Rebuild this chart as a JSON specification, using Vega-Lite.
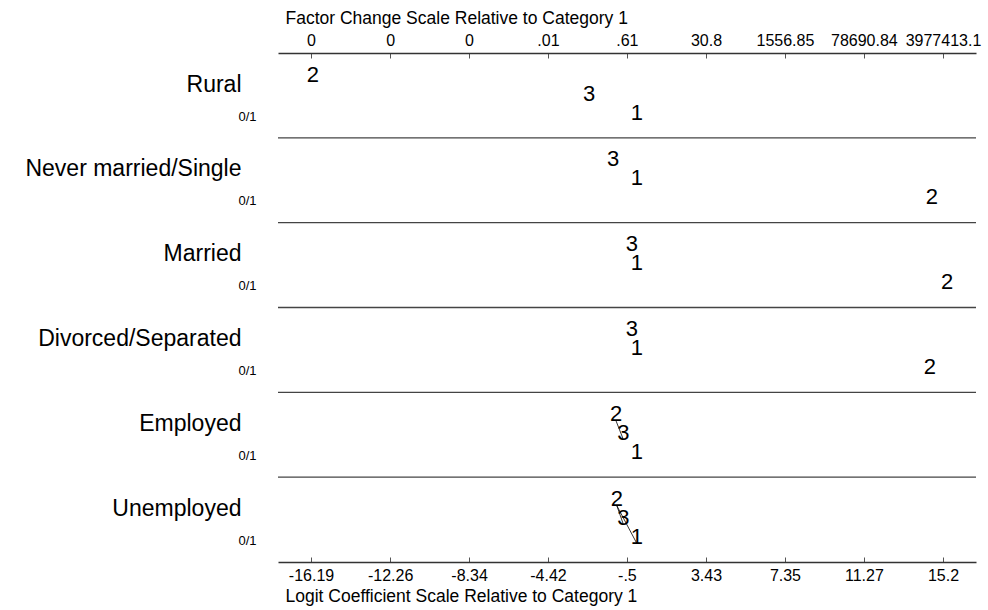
{
  "$schema": "https://vega.github.io/schema/vega-lite/v6.json",
  "width": 698,
  "height": 509,
  "autosize": "none",
  "padding": {"left": 278, "top": 53, "right": 12, "bottom": 48},
  "background": "white",
  "config": {
    "font": "Liberation Sans",
    "view": {"stroke": null},
    "axis": {"labelColor": "#000", "titleColor": "#000", "grid": false, "labelFont": "Liberation Sans", "titleFont": "Liberation Sans", "titleFontWeight": "normal"}
  },
  "datasets": {
    "separators": [{"b": 1}, {"b": 2}, {"b": 3}, {"b": 4}, {"b": 5}],
    "coef": [
      {"row": 0, "variable": "Rural", "cat": "2", "logit": -16.1, "rank": 1},
      {"row": 0, "variable": "Rural", "cat": "3", "logit": -2.38, "rank": 2},
      {"row": 0, "variable": "Rural", "cat": "1", "logit": 0, "rank": 3},
      {"row": 1, "variable": "Never married/Single", "cat": "3", "logit": -1.19, "rank": 1},
      {"row": 1, "variable": "Never married/Single", "cat": "1", "logit": 0, "rank": 2},
      {"row": 1, "variable": "Never married/Single", "cat": "2", "logit": 14.65, "rank": 3},
      {"row": 2, "variable": "Married", "cat": "3", "logit": -0.25, "rank": 1},
      {"row": 2, "variable": "Married", "cat": "1", "logit": 0, "rank": 2},
      {"row": 2, "variable": "Married", "cat": "2", "logit": 15.4, "rank": 3},
      {"row": 3, "variable": "Divorced/Separated", "cat": "3", "logit": -0.25, "rank": 1},
      {"row": 3, "variable": "Divorced/Separated", "cat": "1", "logit": 0, "rank": 2},
      {"row": 3, "variable": "Divorced/Separated", "cat": "2", "logit": 14.55, "rank": 3},
      {"row": 4, "variable": "Employed", "cat": "2", "logit": -1.04, "rank": 1},
      {"row": 4, "variable": "Employed", "cat": "3", "logit": -0.67, "rank": 2},
      {"row": 4, "variable": "Employed", "cat": "1", "logit": 0, "rank": 3},
      {"row": 5, "variable": "Unemployed", "cat": "2", "logit": -1.0, "rank": 1},
      {"row": 5, "variable": "Unemployed", "cat": "3", "logit": -0.67, "rank": 2},
      {"row": 5, "variable": "Unemployed", "cat": "1", "logit": 0, "rank": 3}
    ],
    "links": [
      {"pair": "emp 2-3", "row": 4, "logit": -1.04, "rank": 1},
      {"pair": "emp 2-3", "row": 4, "logit": -0.67, "rank": 2},
      {"pair": "unemp 2-3", "row": 5, "logit": -1.0, "rank": 1},
      {"pair": "unemp 2-3", "row": 5, "logit": -0.67, "rank": 2},
      {"pair": "unemp 2-1", "row": 5, "logit": -1.0, "rank": 1},
      {"pair": "unemp 2-1", "row": 5, "logit": 0, "rank": 3}
    ]
  },
  "layer": [
    {
      "data": {"name": "separators"},
      "mark": {"type": "rule", "color": "#444", "strokeWidth": 1.3},
      "encoding": {
        "y": {
          "field": "b", "type": "quantitative",
          "scale": {"domain": [0, 6], "reverse": true, "nice": false, "zero": false},
          "axis": {
            "orient": "left",
            "values": [0.366, 1.366, 2.366, 3.366, 4.366, 5.366],
            "labelExpr": "['Rural','Never married/Single','Married','Divorced/Separated','Employed','Unemployed'][floor(datum.value)]",
            "domain": false, "ticks": false, "title": null, "labelLimit": 0,
            "labelFontSize": 23, "labelPadding": 37, "labelBaseline": "middle"
          }
        }
      }
    },
    {
      "data": {"name": "coef"},
      "transform": [{"calculate": "datum.row + 0.112 + 0.224 * datum.rank", "as": "ypos"}],
      "mark": {"type": "text", "fontSize": 22, "baseline": "alphabetic", "align": "center", "color": "#000"},
      "encoding": {
        "x": {
          "field": "logit", "type": "quantitative",
          "scale": {"domain": [-17.83, 16.84], "nice": false, "zero": false},
          "axis": {
            "orient": "bottom",
            "values": [-16.19, -12.26, -8.34, -4.42, -0.5, 3.43, 7.35, 11.27, 15.2],
            "labelExpr": "replace('' + datum.value, '0.', '.')",
            "domainColor": "#333", "domainWidth": 1.3,
            "tickColor": "#555", "tickSize": -5,
            "labelFontSize": 16, "labelPadding": 10, "labelOverlap": false, "labelFlush": false, "labelBound": false,
            "title": "Logit Coefficient Scale Relative to Category 1",
            "titleFontSize": 17.5, "titleAnchor": "start", "titleAlign": "left", "titleX": 7, "titleY": 34, "titleBaseline": "middle"
          }
        },
        "y": {
          "field": "ypos", "type": "quantitative",
          "scale": {"domain": [0, 6], "reverse": true, "nice": false, "zero": false},
          "axis": {
            "orient": "left",
            "values": [0.743, 1.743, 2.743, 3.743, 4.743, 5.743],
            "labelExpr": "'0/1'",
            "domain": false, "ticks": false, "title": null,
            "labelFontSize": 13, "labelPadding": 22, "labelBaseline": "middle"
          }
        },
        "text": {"field": "cat", "type": "nominal"}
      }
    },
    {
      "data": {"name": "links"},
      "transform": [{"calculate": "datum.row + 0.112 + 0.224 * datum.rank", "as": "ypos"}],
      "mark": {"type": "line", "color": "#000", "strokeWidth": 0.8},
      "encoding": {
        "x": {
          "field": "logit", "type": "quantitative",
          "scale": {"domain": [-17.83, 16.84], "nice": false, "zero": false},
          "axis": {
            "orient": "top",
            "values": [-16.19, -12.26, -8.34, -4.42, -0.5, 3.43, 7.35, 11.27, 15.2],
            "labelExpr": "['0','0','0','.01','.61','30.8','1556.85','78690.84','3977413.1'][indexof([-16.19,-12.26,-8.34,-4.42,-0.5,3.43,7.35,11.27,15.2], datum.value)]",
            "domainColor": "#333", "domainWidth": 1.3,
            "tickColor": "#555", "tickSize": -5,
            "labelFontSize": 16, "labelPadding": 10, "labelOverlap": false, "labelFlush": false, "labelBound": false,
            "title": "Factor Change Scale Relative to Category 1",
            "titleFontSize": 17.5, "titleAnchor": "start", "titleAlign": "left", "titleX": 7, "titleY": -35, "titleBaseline": "middle"
          }
        },
        "y": {
          "field": "ypos", "type": "quantitative",
          "scale": {"domain": [0, 6], "reverse": true, "nice": false, "zero": false},
          "axis": null
        },
        "detail": {"field": "pair", "type": "nominal"},
        "order": {"field": "rank", "type": "quantitative"}
      }
    }
  ],
  "resolve": {"scale": {"x": "independent", "y": "independent"}}
}
